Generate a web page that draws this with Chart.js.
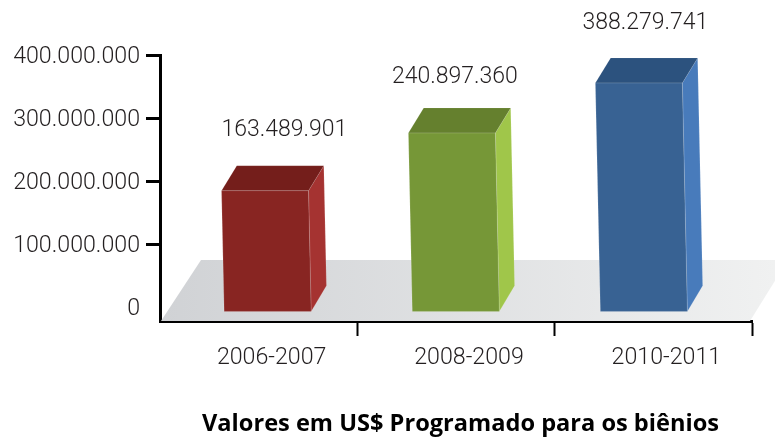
<!DOCTYPE html>
<html><head><meta charset="utf-8">
<style>html,body{margin:0;padding:0;background:#fff}canvas{display:block}</style>
<script src="https://cdn.jsdelivr.net/npm/chart.js@4"></script>
</head><body><canvas id="c" width="775" height="437"></canvas>
<script>
const categories = ['2006-2007','2008-2009','2010-2011'];
const printedValues = [163489901,240897360,388279741];
const drawnBarTops = [184600000,276200000,355600000];
const drawnBarBase = -7000000;
const yTickValues = [0,100000000,200000000,300000000,400000000];
const chartTitle = 'Valores em US$ Programado para os biênios';
const frontColors = ['#882522','#769737','#386293'];
const topColors = ['#741e1b','#65802e','#2c527e'];
const sideColors = ['#a53331','#a0c64a','#487bbb'];

const FONT = 'Roboto';
const fmt = v => String(v).replace(/\B(?=(\d{3})+(?!\d))/g,'.');
const labelShift = [[18,-60],[1,-56],[4,-59.5]];

function poly(ctx, pts, fill, stroke){
  ctx.beginPath();
  pts.forEach((p,i)=> i?ctx.lineTo(p[0],p[1]):ctx.moveTo(p[0],p[1]));
  ctx.closePath();
  ctx.fillStyle = fill; ctx.fill();
  if(stroke){ctx.strokeStyle = stroke; ctx.lineWidth = 0.7; ctx.stroke();}
}

const scene = {
  id:'scene',
  beforeDatasetsDraw(chart){
    const {ctx, chartArea:a} = chart;
    const g = ctx.createLinearGradient(a.left,0,775,0);
    g.addColorStop(0,'#d0d2d5'); g.addColorStop(1,'#f0f1f1');
    ctx.save();
    poly(ctx,[[a.left+1,a.bottom],[a.left+41,a.bottom-61],[788,a.bottom-61],[a.right-2,a.bottom]],g);
    ctx.restore();
  },
  beforeDatasetDraw(chart,args){
    const {ctx} = chart;
    const meta = args.meta;
    meta.data.forEach((el,i)=>{
      const w = el.width/2, h = el.base-el.y, s = 0.011*h, dx = 15.3, dy = 25;
      const tl=[el.x-w-s,el.y], tr=[el.x+w-s,el.y], br=[el.x+w+s,el.base], bl=[el.x-w+s,el.base];
      const bt=[tr[0]+dx,tr[1]-dy], bb=[br[0]+dx,br[1]-dy-0.7], tb=[tl[0]+dx,tl[1]-dy];
      ctx.save();
      poly(ctx,[tr,bt,bb,br],sideColors[i],'rgba(255,255,255,.18)');
      poly(ctx,[tl,tb,bt,tr],topColors[i],'rgba(255,255,255,.12)');
      poly(ctx,[tl,tr,br,bl],frontColors[i],'rgba(255,255,255,.22)');
      ctx.restore();
    });
    return false;
  },
  afterDraw(chart){
    const {ctx} = chart;
    const meta = chart.getDatasetMeta(0);
    ctx.save();
    ctx.fillStyle = '#231f20';
    ctx.font = '300 23px '+FONT;
    ctx.textAlign = 'center'; ctx.textBaseline = 'middle';
    meta.data.forEach((el,i)=>{
      ctx.fillText(fmt(printedValues[i]), el.x+labelShift[i][0], el.y+labelShift[i][1]);
    });
    ctx.fillStyle = '#000';
    ctx.font = '700 23.6px "Open Sans"';
    ctx.fillText(chartTitle, 460.5, 424);
    ctx.restore();
  }
};

new Chart(document.getElementById('c'),{
  type:'bar',
  data:{
    labels:categories,
    datasets:[{
      label:'Valores em US$',
      xAxisID:'xBars',
      data:categories.map((c,i)=>({x:i,y:[drawnBarBase,drawnBarTops[i]]})),
      backgroundColor:frontColors,
      barThickness:87,
      clip:false
    }]
  },
  options:{
    responsive:false,
    animation:false,
    layout:{padding:{top:55,right:23,left:0,bottom:0}},
    plugins:{legend:{display:false},title:{display:false},tooltip:{enabled:false}},
    scales:{
      xBars:{type:'linear',axis:'x',display:false,offset:false,min:-0.567,max:2.59},
      x:{
        type:'category',
        labels:categories,
        offset:true,
        border:{display:true,color:'#000',width:3},
        grid:{offset:true,drawOnChartArea:false,drawTicks:true,tickLength:15,tickWidth:2,
          tickColor:c=>c.index===0?'rgba(0,0,0,0)':'#000'},
        ticks:{font:{family:FONT,size:23.2,weight:'300'},color:'#231f20',labelOffset:13,padding:8,maxRotation:0},
        afterFit(s){s.height=116;}
      },
      y:{
        min:-22222222,
        max:400000000,
        afterBuildTicks(s){s.ticks=yTickValues.map(v=>({value:v}));},
        border:{display:true,color:'#000',width:3},
        grid:{drawOnChartArea:false,drawTicks:true,tickLength:14,tickWidth:3,
          tickColor:c=>c.tick&&c.tick.value===0?'rgba(0,0,0,0)':'#000'},
        ticks:{font:{family:FONT,size:23.2,weight:'300'},color:'#231f20',padding:6,labelOffset:2,callback:v=>fmt(v)},
        afterFit(s){s.width=160;}
      }
    }
  },
  plugins:[scene]
});
</script></body></html>
